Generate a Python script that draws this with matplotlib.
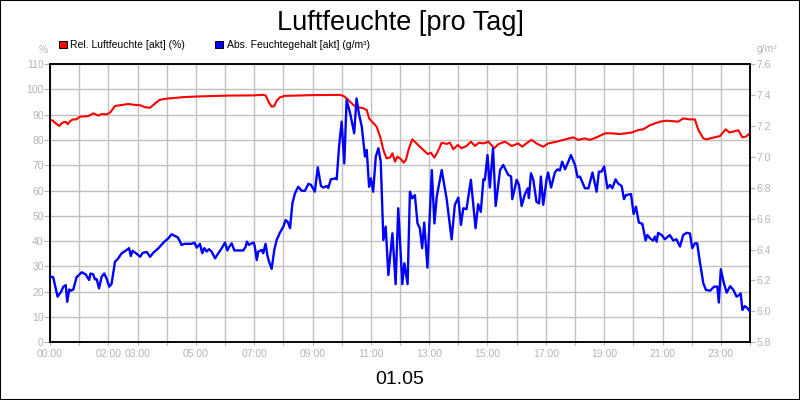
import matplotlib
matplotlib.use("Agg")
import matplotlib.pyplot as plt
from matplotlib.patches import Rectangle

plt.rcParams['font.family'] = ['Liberation Sans', 'DejaVu Sans']

# relative humidity (%), time in hours of the day
rel_t = [0.02, 0.11, 0.22, 0.32, 0.40, 0.49, 0.55, 0.61, 0.69, 0.78, 0.90, 1.03, 1.31, 1.49,
         1.66, 1.77, 1.94, 2.06, 2.23, 2.40, 2.69, 2.92, 3.09, 3.26, 3.43, 3.54, 3.75, 4.00,
         4.57, 5.14, 6.06, 6.97, 7.31, 7.40, 7.49, 7.60, 7.69, 7.77, 7.88, 8.05, 9.00, 9.94,
         10.06, 10.23, 10.40, 10.51, 10.74, 10.86, 10.94, 11.09, 11.20, 11.32, 11.43, 11.54,
         11.66, 11.74, 11.83, 11.91, 12.04, 12.12, 12.20, 12.29, 12.42, 12.57, 12.68, 12.74,
         12.95, 13.06, 13.18, 13.29, 13.43, 13.60, 13.71, 13.83, 13.98, 14.11, 14.28, 14.43,
         14.57, 14.71, 14.86, 15.03, 15.23, 15.37, 15.60, 15.83, 16.05, 16.19, 16.35, 16.51,
         16.68, 16.91, 17.08, 17.37, 17.60, 17.94, 18.11, 18.34, 18.51, 18.74, 19.03, 19.26,
         19.54, 19.71, 19.94, 20.17, 20.34, 20.57, 20.91, 21.14, 21.54, 21.71, 21.94, 22.11,
         22.23, 22.40, 22.51, 22.74, 22.97, 23.17, 23.29, 23.43, 23.60, 23.74, 23.86, 24.00]
rel_val = [87.9, 87.5, 86.3, 85.5, 86.6, 87.1, 87.1, 86.2, 87.4, 88.1, 88.1, 89.2, 89.4, 90.5,
           89.6, 90.2, 90.1, 90.8, 93.4, 93.7, 94.2, 93.8, 93.7, 92.9, 92.7, 93.8, 95.8, 96.3,
           96.9, 97.2, 97.5, 97.6, 97.8, 97.5, 95.1, 93.1, 93.4, 95.5, 96.8, 97.4, 97.7, 97.8,
           97.4, 95.8, 93.8, 93.1, 92.5, 91.8, 88.5, 86.6, 85.2, 81.3, 76.0, 72.7,
           73.1, 74.7, 71.4, 73.4, 72.3, 71.0, 72.0, 76.0, 80.2, 78.6, 77.3, 76.7,
           74.4, 74.9, 73.0, 75.3, 78.9, 78.4, 78.9, 76.3, 78.0, 76.7, 77.6, 79.3,
           77.6, 78.9, 78.6, 79.3, 76.7, 78.3, 79.3, 77.6, 78.6, 77.3, 78.8, 80.0,
           78.6, 77.3, 78.6, 79.3, 80.0, 81.0, 80.0, 80.6, 80.0, 81.0, 82.6, 82.6,
           82.3, 82.6, 82.9, 83.9, 84.2, 85.8, 87.2, 87.6, 87.2, 88.5, 88.1, 88.1,
           83.9, 80.6, 80.2, 80.9, 81.5, 84.2, 82.9, 83.3, 83.8, 81.0, 81.3, 82.6]

# absolute humidity (g/m³)
abs_t = [0.03, 0.11, 0.26, 0.38, 0.46, 0.54, 0.59, 0.66, 0.72, 0.80, 0.91, 1.09, 1.22, 1.34,
         1.39, 1.48, 1.54, 1.60, 1.68, 1.77, 1.86, 1.94, 2.03, 2.11, 2.23, 2.32, 2.46, 2.63,
         2.71, 2.77, 2.83, 2.95, 3.09, 3.18, 3.32, 3.43, 3.54, 3.72, 3.89, 4.06, 4.17, 4.29,
         4.38, 4.46, 4.51, 4.63, 4.86, 4.95, 5.03, 5.14, 5.22, 5.29, 5.37, 5.45, 5.54, 5.66,
         5.77, 5.89, 6.00, 6.08, 6.15, 6.23, 6.32, 6.63, 6.71, 6.75, 6.82, 6.91, 6.99, 7.03,
         7.09, 7.14, 7.26, 7.31, 7.39, 7.45, 7.51, 7.60, 7.69, 7.77, 7.88, 8.00, 8.08, 8.15,
         8.23, 8.31, 8.40, 8.51, 8.63, 8.74, 8.86, 8.95, 9.08, 9.18, 9.29, 9.37, 9.49, 9.54,
         9.63, 9.77, 9.83, 9.91, 10.00, 10.09, 10.17, 10.29, 10.43, 10.51, 10.59, 10.69, 10.80,
         10.86, 10.94, 11.00, 11.08, 11.17, 11.26, 11.34, 11.43, 11.51, 11.60, 11.74, 11.85,
         11.94, 12.08, 12.15, 12.26, 12.34, 12.42, 12.51, 12.60, 12.68, 12.76, 12.83, 12.94,
         13.09, 13.18, 13.26, 13.43, 13.60, 13.77, 13.88, 14.00, 14.09, 14.17, 14.28, 14.43,
         14.59, 14.68, 14.77, 14.86, 14.91, 15.00, 15.08, 15.19, 15.28, 15.43, 15.54, 15.71,
         15.81, 15.85, 16.00, 16.08, 16.17, 16.28, 16.38, 16.42, 16.49, 16.57, 16.68, 16.77,
         16.83, 16.91, 17.03, 17.08, 17.18, 17.31, 17.40, 17.48, 17.56, 17.66, 17.77, 17.86,
         18.00, 18.09, 18.17, 18.34, 18.46, 18.60, 18.74, 18.82, 18.91, 19.00, 19.11, 19.20,
         19.28, 19.39, 19.48, 19.60, 19.68, 19.75, 19.92, 20.01, 20.09, 20.19, 20.31, 20.42,
         20.48, 20.57, 20.68, 20.74, 20.80, 20.85, 20.97, 21.08, 21.25, 21.37, 21.48, 21.60,
         21.71, 21.83, 21.94, 22.02, 22.11, 22.19, 22.28, 22.40, 22.49, 22.63, 22.77, 22.88,
         22.93, 23.00, 23.09, 23.20, 23.32, 23.43, 23.54, 23.63, 23.68, 23.74, 23.82, 23.90,
         24.00]
abs_val = [6.224, 6.221, 6.095, 6.127, 6.160, 6.170, 6.062, 6.142, 6.134, 6.142, 6.221, 6.253,
           6.240, 6.203, 6.245, 6.240, 6.207, 6.209, 6.149, 6.224, 6.245, 6.212, 6.160, 6.178,
           6.322, 6.338, 6.376, 6.397, 6.409, 6.358, 6.392, 6.376, 6.353, 6.379, 6.384, 6.353,
           6.379, 6.409, 6.445, 6.473, 6.499, 6.487, 6.479, 6.451, 6.430, 6.437, 6.437, 6.445,
           6.412, 6.437, 6.376, 6.409, 6.387, 6.402, 6.387, 6.343, 6.376, 6.409, 6.445, 6.394,
           6.419, 6.440, 6.394, 6.394, 6.419, 6.451, 6.430, 6.440, 6.445, 6.409, 6.332, 6.387,
           6.397, 6.376, 6.437, 6.365, 6.322, 6.275, 6.397, 6.461, 6.508, 6.548, 6.590, 6.579,
           6.538, 6.698, 6.764, 6.806, 6.780, 6.780, 6.825, 6.818, 6.774, 6.932, 6.811, 6.801,
           6.811, 6.798, 6.854, 6.860, 6.854, 7.065, 7.227, 6.957, 7.368, 7.281, 7.152, 7.377,
           7.281, 7.194, 7.001, 7.044, 6.806, 6.860, 6.774, 7.001, 7.055, 6.968, 6.461, 6.548,
           6.235, 6.505, 6.176, 6.667, 6.176, 6.311, 6.176, 6.774, 6.731, 6.752, 6.569, 6.538,
           6.409, 6.574, 6.283, 6.914, 6.569, 6.743, 6.914, 6.726, 6.466, 6.689, 6.736, 6.559,
           6.667, 6.661, 6.851, 6.538, 6.693, 6.644, 6.854, 6.851, 7.011, 6.801, 7.055, 6.682,
           6.914, 6.947, 6.883, 6.872, 6.726, 6.851, 6.818, 6.682, 6.757, 6.796, 6.733, 6.893,
           6.851, 6.708, 6.698, 6.872, 6.689, 6.860, 6.898, 6.801, 6.898, 6.919, 6.911, 6.968,
           6.919, 6.968, 7.011, 6.947, 6.867, 6.872, 6.796, 6.796, 6.898, 6.774, 6.904, 6.904,
           6.937, 6.796, 6.818, 6.796, 6.854, 6.827, 6.811, 6.726, 6.752, 6.759, 6.630, 6.677,
           6.574, 6.566, 6.459, 6.494, 6.473, 6.458, 6.484, 6.451, 6.508, 6.494, 6.466, 6.494,
           6.458, 6.466, 6.419, 6.494, 6.508, 6.504, 6.409, 6.440, 6.440, 6.322, 6.181, 6.139,
           6.134, 6.160, 6.160, 6.057, 6.273, 6.193, 6.121, 6.163, 6.139, 6.095, 6.106, 6.116,
           6.009, 6.034, 6.024, 5.998]

hour_labels = ["00:00", "", "02:00", "03:00", "", "05:00", "", "07:00", "", "09:00", "",
               "11:00", "", "13:00", "", "15:00", "", "17:00", "", "19:00", "", "21:00", "",
               "23:00", ""]
left_ticks = [0, 10, 20, 30, 40, 50, 60, 70, 80, 90, 100, 110]
right_ticks = [5.8, 6.0, 6.2, 6.4, 6.6, 6.8, 7.0, 7.2, 7.4, 7.6]

gray = '#b4b4b4'
fig = plt.figure(figsize=(8, 4), dpi=100)
ax = fig.add_axes([50 / 800, 1 - 342.3 / 400, 700 / 800, 278.3 / 400])
ax2 = ax.twinx()

ax.plot(rel_t, rel_val, color='#ff0000', lw=1.5, zorder=3)
ax2.plot(abs_t, abs_val, color='#0000ff', lw=1.7, zorder=3)

ax.set_xlim(0, 24)
ax.set_ylim(0, 110)
ax2.set_ylim(5.8, 7.6)
ax.set_xticks(range(25))
ax.set_xticklabels(hour_labels)
ax.set_yticks(left_ticks)
ax.set_yticklabels([str(v) for v in left_ticks])
ax2.set_yticks(right_ticks)
ax2.set_yticklabels([f"{v:.1f}" for v in right_ticks])

ax.set_axisbelow(True)
ax.grid(True, color='#c0c0c0', lw=1.0)
ax.tick_params(axis='x', colors=gray, labelcolor=gray, labelsize=7.5, length=2.5, pad=2.5)
ax.tick_params(axis='y', colors=gray, labelcolor=gray, labelsize=7.5, length=4, pad=0.5)
ax2.tick_params(axis='y', colors=gray, labelcolor=gray, labelsize=7.5, length=3.5, pad=1)
for a in (ax, ax2):
    for s in a.spines.values():
        s.set_color('black')
        s.set_linewidth(1.1)

fig.text(0.5, 1 - 30 / 400, "Luftfeuchte [pro Tag]", ha='center', va='baseline', fontsize=19.5)
fig.text(0.5, 1 - 383.5 / 400, "01.05", ha='center', va='baseline', fontsize=14)
fig.text(43 / 800, 1 - 53 / 400, "%", ha='center', va='baseline', fontsize=7.5, color=gray)
fig.text(767 / 800, 1 - 52 / 400, "g/m³", ha='center', va='baseline', fontsize=7.5, color=gray)

# legend boxes
fig.patches.append(Rectangle((58.5 / 800, 1 - 47.5 / 400), 8 / 800, 7 / 400,
                             transform=fig.transFigure, facecolor='#ff0000', edgecolor='black', lw=0.7))
fig.text(70 / 800, 1 - 47.5 / 400, "Rel. Luftfeuchte [akt] (%)", fontsize=7.5, va='baseline')
fig.patches.append(Rectangle((215.5 / 800, 1 - 47.5 / 400), 8 / 800, 7 / 400,
                             transform=fig.transFigure, facecolor='#0000ff', edgecolor='black', lw=0.7))
fig.text(227 / 800, 1 - 47.5 / 400, "Abs. Feuchtegehalt [akt] (g/m³)", fontsize=7.5, va='baseline')

fig.patches.append(Rectangle((0, 0), 1, 1, transform=fig.transFigure, fill=False,
                             edgecolor='black', lw=1.5))

fig.savefig("out.png", dpi=100)
